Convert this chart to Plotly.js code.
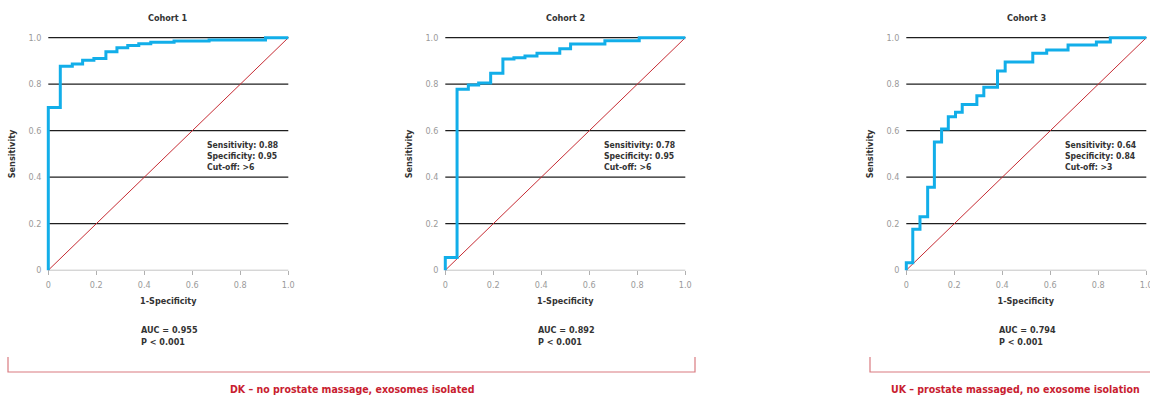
<!DOCTYPE html>
<html>
<head>
<meta charset="utf-8">
<script src="https://cdn.plot.ly/plotly-3.0.1.min.js"></script>
<style>html,body{margin:0;padding:0;background:#fff;}#chart{width:1150px;height:396px;}</style>
</head>
<body>
<div id="chart"></div>
<script>
// ---------- DATA ----------
const cohortTitles = ["Cohort 1", "Cohort 2", "Cohort 3"];

const fpr1  = [0, 0, 0.05, 0.10, 0.143, 0.19, 0.24, 0.286, 0.331, 0.377, 0.427, 0.524, 0.67, 0.905, 1.0];
const sens1 = [0, 0.70, 0.877, 0.887, 0.903, 0.91, 0.94, 0.957, 0.966, 0.974, 0.98, 0.986, 0.99, 1.0, 1.0];

const fpr2  = [0, 0, 0.049, 0.096, 0.139, 0.189, 0.24, 0.286, 0.332, 0.382, 0.477, 0.522, 0.665, 0.808, 1.0];
const sens2 = [0, 0.055, 0.778, 0.797, 0.805, 0.847, 0.908, 0.914, 0.921, 0.933, 0.953, 0.973, 0.987, 1.0, 1.0];

const fpr3  = [0, 0, 0.027, 0.057, 0.089, 0.117, 0.147, 0.175, 0.205, 0.233, 0.294, 0.323, 0.38, 0.412, 0.527, 0.585, 0.674, 0.792, 0.85, 1.0];
const sens3 = [0, 0.032, 0.176, 0.23, 0.357, 0.551, 0.607, 0.66, 0.679, 0.713, 0.75, 0.787, 0.857, 0.895, 0.933, 0.947, 0.969, 0.981, 1.0, 1.0];

const refX = [0, 1];
const refY = [0, 1];

const sensitivityAt = ["0.88", "0.78", "0.64"];
const specificityAt = ["0.95", "0.95", "0.84"];
const cutOff = [">6", ">6", ">3"];
const aucValues = ["0.955", "0.892", "0.794"];
const pValues = ["< 0.001", "< 0.001", "< 0.001"];

const tickVals = [0, 0.2, 0.4, 0.6, 0.8, 1.0];
const tickText = ["0", "0.2", "0.4", "0.6", "0.8", "1.0"];
const gridVals = [0.2, 0.4, 0.6, 0.8, 1.0];

const groupLabels = ["DK – no prostate massage, exosomes isolated", "UK – prostate massaged, no exosome isolation"];

// ---------- LAYOUT ----------
const W = 1150, H = 396;
const FONT = "'DejaVu Sans Condensed', 'Liberation Sans Narrow', Roboto, sans-serif";
const X0 = [48.3, 445.3, 906.3];   // pixel where x=0
const XW = 240;                     // pixels per unit x
const Y0 = 270.2, YH = 232.5;       // pixel where y=0, pixels per unit y
const PAD = 0.02;

const fprs = [fpr1, fpr2, fpr3];
const senss = [sens1, sens2, sens3];

const px = p => p / W;
const py = p => 1 - p / H;

const data = [];
const layout = {
  width: W, height: H,
  margin: {l: 0, r: 0, t: 0, b: 0},
  paper_bgcolor: "#fff", plot_bgcolor: "rgba(0,0,0,0)",
  showlegend: false,
  font: {family: FONT, size: 9, color: "#333"},
  shapes: [], annotations: []
};

for (let i = 0; i < 3; i++) {
  const n = i === 0 ? "" : String(i + 1);
  const xa = "x" + n, ya = "y" + n;
  let d0 = (X0[i] - PAD * XW) / W;
  let d1 = (X0[i] + (1 + PAD) * XW) / W;
  if (d1 > 1) d1 = 1;
  const xr0 = (d0 * W - X0[i]) / XW;
  const xr1 = (d1 * W - X0[i]) / XW;
  const yd0 = (H - (Y0 + PAD * YH)) / H;
  const yd1 = (H - (Y0 - (1 + PAD) * YH)) / H;

  layout["xaxis" + n] = {
    domain: [d0, d1], range: [xr0, xr1], anchor: "free", position: py(Y0),
    showgrid: false, zeroline: false, showline: false,
    ticks: "outside", ticklen: 4, tickwidth: 1, tickcolor: "#b0b0b0",
    tickvals: tickVals, ticktext: tickText, ticklabelstandoff: 2,
    ticklabeloverflow: "allow",
    tickfont: {family: FONT, size: 9, color: "#9a9a9a"},
    title: {text: "<b>1-Specificity</b>", font: {family: FONT, size: 9, color: "#333"}, standoff: 8},
    fixedrange: true
  };
  layout["yaxis" + n] = {
    domain: [yd0, yd1], range: [-PAD, 1 + PAD], anchor: "free", position: px(X0[i]),
    showgrid: false, zeroline: false, showline: false,
    ticks: "", tickvals: tickVals, ticktext: tickText, ticklabelstandoff: 7,
    tickfont: {family: FONT, size: 9, color: "#9a9a9a"},
    title: {text: "<b>Sensitivity</b>", font: {family: FONT, size: 9, color: "#333"}, standoff: 10},
    fixedrange: true
  };

  gridVals.forEach(v => layout.shapes.push({
    type: "line", xref: xa, yref: ya, x0: 0, x1: 1, y0: v, y1: v,
    line: {color: "#1e1e1e", width: 1.3}, layer: "below"
  }));
  layout.shapes.push({type: "line", xref: xa, yref: ya, x0: 0, x1: 1, y0: 0, y1: 0,
    line: {color: "#c4c4c4", width: 1}, layer: "below"});

  data.push({x: refX, y: refY, xaxis: xa, yaxis: ya, mode: "lines",
    line: {color: "#c62b33", width: 1}, hoverinfo: "skip"});
  data.push({x: fprs[i], y: senss[i], xaxis: xa, yaxis: ya, mode: "lines",
    line: {color: "#12aee9", width: 3, shape: "hv"}, hoverinfo: "skip"});

  layout.annotations.push({xref: "paper", yref: "paper", x: px(X0[i] + XW / 2), y: py(18),
    xanchor: "center", yanchor: "middle", showarrow: false,
    text: "<b>" + cohortTitles[i] + "</b>", font: {family: FONT, size: 9, color: "#333"}});
  layout.annotations.push({xref: "paper", yref: "paper", x: px(X0[i] + 157), y: py(138),
    xanchor: "left", yanchor: "top", align: "left", showarrow: false,
    text: "<b>Sensitivity: " + sensitivityAt[i] + "<br>Specificity: " + specificityAt[i] + "<br>Cut-off: " + cutOff[i] + "</b>",
    font: {family: FONT, size: 8.6, color: "#333"}});
  layout.annotations.push({xref: "paper", yref: "paper", x: px(X0[i] + 91), y: py(323),
    xanchor: "left", yanchor: "top", align: "left", showarrow: false,
    text: "<b>AUC = " + aucValues[i] + "<br>P " + pValues[i] + "</b>",
    font: {family: FONT, size: 9, color: "#333"}});
}

const bracketColor = "#d97b80";
layout.shapes.push({type: "path", xref: "paper", yref: "paper",
  path: `M ${px(8)} ${py(357)} L ${px(8)} ${py(372)} L ${px(695)} ${py(372)} L ${px(695)} ${py(357)}`,
  line: {color: bracketColor, width: 1.2}});
layout.shapes.push({type: "path", xref: "paper", yref: "paper",
  path: `M ${px(870)} ${py(357)} L ${px(870)} ${py(372)} L ${px(1150)} ${py(372)}`,
  line: {color: bracketColor, width: 1.2}});

layout.annotations.push({xref: "paper", yref: "paper", x: px(352), y: py(388.5),
  xanchor: "center", yanchor: "middle", showarrow: false,
  text: "<b>" + groupLabels[0] + "</b>", font: {family: FONT, size: 10.5, color: "#c8202f"}});
layout.annotations.push({xref: "paper", yref: "paper", x: px(1015), y: py(388.5),
  xanchor: "center", yanchor: "middle", showarrow: false,
  text: "<b>" + groupLabels[1] + "</b>", font: {family: FONT, size: 10.5, color: "#c8202f"}});

Plotly.newPlot("chart", data, layout, {staticPlot: true, displayModeBar: false});
</script>
</body>
</html>
